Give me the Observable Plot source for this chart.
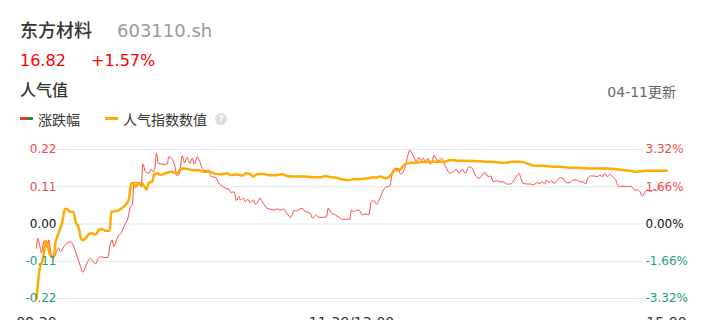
<!DOCTYPE html>
<html>
<head>
<meta charset="utf-8">
<script src="https://cdn.jsdelivr.net/npm/d3@7"></script>
<script src="https://cdn.jsdelivr.net/npm/@observablehq/plot@0.6"></script>
<style>
  html, body { margin: 0; padding: 0; background: #fff; width: 707px; height: 320px; overflow: hidden; }
  body { position: relative; font-family: "DejaVu Sans", "Noto Sans CJK SC", sans-serif; }
  .t { position: absolute; white-space: nowrap; }
  #chart { position: absolute; left: 0; top: 130px; }
  .mk { position: absolute; height: 3px; }
</style>
</head>
<body>
<div class="t" style="left:20px;top:22px;font-size:18px;line-height:18px;color:#333;font-weight:500;">东方材料</div>
<div class="t" style="left:117px;top:22px;font-size:18px;line-height:18px;color:#999;">603110.sh</div>
<div class="t" style="left:20px;top:53px;font-size:16px;line-height:16px;color:#f00;">16.82</div>
<div class="t" style="left:91px;top:53px;font-size:16px;line-height:16px;color:#f00;">+1.57%</div>
<div class="t" style="left:20px;top:82.5px;font-size:16px;line-height:16px;color:#333;font-weight:500;">人气值</div>
<div class="t" style="right:31px;top:85px;font-size:14px;line-height:14px;color:#666;">04-11更新</div>
<div class="mk" style="left:20px;top:117px;width:7px;background:#e8382f;"></div>
<div class="mk" style="left:27px;top:117px;width:6px;background:#2e8b3a;"></div>
<div class="t" style="left:38px;top:113px;font-size:14px;line-height:14px;color:#333;">涨跌幅</div>
<div class="mk" style="left:105px;top:117px;width:13px;background:#ffab00;"></div>
<div class="t" style="left:123px;top:113px;font-size:14px;line-height:14px;color:#333;">人气指数数值</div>
<div class="t" style="left:215px;top:112.5px;width:12px;height:12px;border-radius:6px;background:#ddd;color:#fff;font-size:9px;line-height:12px;text-align:center;font-weight:bold;">?</div>
<div id="chart"></div>
<script>
// 涨跌幅 (%) by trading minute index (0 = 09:30, 120 = 11:30/13:00, 240 = 15:00)
const redMinute = [0,0.5,1.3,1.9,2.6,3.4,4.1,4.7,5.3,6.0,6.9,7.6,8.5,9.1,10.4,11.7,13.0,14.2,15.5,16.8,17.6,18.7,19.5,20.6,21.6,22.5,23.5,24.7,25.9,27.2,27.9,28.8,29.5,30.5,31.4,32.3,33.0,33.9,34.8,35.8,36.5,37.1,37.7,39.0,39.9,40.5,41.5,42.8,43.7,44.5,45.1,45.7,46.4,47.9,49.1,49.8,50.4,51.7,52.6,53.6,54.5,55.5,56.4,57.4,58.4,59.3,60.2,61.2,62.2,63.5,64.8,65.6,66.6,68.2,69.5,70.8,72.0,73.3,74.2,75.2,76.2,77.1,77.7,78.8,79.6,80.5,81.5,82.6,83.4,84.1,85.1,86.4,87.9,89.2,90.4,91.7,93.0,94.2,95.5,96.8,97.4,98.0,99.1,100.3,101.2,102.5,104.1,105.3,106.3,107.6,109.5,110.5,111.1,112.3,113.9,115.2,116.5,117.7,119.4,119.9,120.9,121.9,123.2,124.1,125.3,126.6,127.5,128.5,129.5,131.1,132.3,133.6,134.6,135.3,135.9,136.8,137.7,138.7,139.7,140.6,141.5,142.2,143.1,144.0,144.8,145.7,146.6,147.3,148.2,149.1,149.9,150.8,151.4,152.4,153.3,154.2,155.2,156.2,157.5,158.8,160.0,160.9,162.2,163.4,164.7,166.0,167.3,168.9,170.2,171.1,172.0,173.0,174.0,175.3,176.5,177.8,179.1,180.6,181.9,183.1,183.8,184.4,185.4,187.0,188.2,189.5,190.5,191.8,192.7,193.5,194.3,195.2,196.1,197.1,198.4,199.6,200.9,201.9,203.2,204.5,205.7,207.0,208.3,209.2,210.0,211.1,212.3,213.6,214.6,215.5,216.4,217.4,218.4,219.7,220.6,221.3,222.3,223.8,225.1,226.0,226.9,227.8,228.9,229.9,230.8,231.7,232.7,234.0,235.2,236.3,237.1,238.0];
const redPct = [-1.08,-0.64,-1.01,-1.29,-0.85,-0.71,-1.07,-0.71,-1.16,-1.52,-1.46,-1.23,-1.07,-1.23,-1.01,-0.85,-0.79,-1.01,-1.46,-1.90,-2.15,-1.90,-1.68,-1.53,-1.68,-1.78,-1.53,-1.46,-1.49,-1.49,-1.01,-0.71,-1.01,-0.71,-0.49,-0.41,-0.19,0.03,0.25,0.77,0.85,1.81,1.84,1.81,1.66,2.67,2.33,2.26,2.44,2.33,2.48,3.15,2.70,2.67,2.66,2.67,3.00,2.88,2.63,2.14,2.26,3.03,2.73,2.97,2.70,2.93,2.67,3.00,2.78,2.41,2.38,2.41,2.11,2.08,1.81,1.69,1.59,1.55,1.39,1.44,1.04,1.22,1.07,1.15,0.99,1.10,0.95,1.07,0.89,0.92,1.15,0.92,0.70,0.66,0.62,0.67,0.62,0.67,0.45,0.30,0.40,0.59,0.59,0.66,0.70,0.55,0.50,0.25,0.40,0.30,0.30,0.33,0.70,0.50,0.40,0.30,0.21,0.22,0.21,0.62,0.55,0.62,0.59,0.40,0.45,0.40,0.99,1.04,0.89,1.22,1.55,1.66,1.69,2.11,2.41,2.48,2.48,2.23,2.33,2.63,3.07,3.30,3.15,2.93,2.78,2.97,2.82,2.93,2.78,2.93,2.67,2.78,3.07,2.88,2.82,2.93,2.70,2.48,2.26,2.33,2.44,2.26,2.44,2.26,2.55,2.48,2.14,2.04,2.26,2.26,2.11,2.14,1.88,1.93,1.88,1.88,1.78,1.78,1.96,2.18,2.26,2.08,1.81,1.78,1.78,1.74,1.84,1.81,1.88,1.78,1.96,1.84,1.93,1.81,1.96,2.06,1.99,1.84,1.84,1.96,1.96,1.88,1.88,1.78,2.04,2.14,2.14,2.11,2.18,2.11,2.26,2.11,2.21,2.08,1.99,1.74,1.66,1.69,1.66,1.69,1.64,1.52,1.52,1.44,1.25,1.39,1.52,1.44,1.55,1.48,1.59,1.62];

// 人气指数数值 by trading minute index
const popMinute = [0,1.5,2.2,2.8,3.4,4.1,4.7,5.6,6.6,7.2,7.9,9.1,10.0,10.8,11.7,12.7,14.0,14.9,16.1,17.0,18.0,19.1,19.9,21.2,22.5,23.7,25.0,26.3,27.9,28.5,30.1,31.4,32.7,33.9,35.2,36.1,36.8,37.7,39.0,40.3,41.1,41.9,42.8,44.1,44.7,46.0,47.2,49.1,51.1,52.6,53.6,54.9,56.1,58.0,59.9,61.8,63.7,65.6,68.2,70.1,72.7,73.9,76.5,78.4,80.0,81.3,82.6,84.1,86.6,88.5,91.1,93.6,95.5,98.0,102.5,104.4,108.2,110.1,112.0,113.9,115.8,118.4,120.9,124.1,126.6,127.9,129.2,131.1,133.0,134.2,135.5,136.8,137.4,138.7,139.9,141.2,143.1,145.0,147.6,150.1,152.7,155.2,157.7,160.3,162.8,166.6,171.1,174.2,176.8,178.7,181.2,183.8,185.7,187.6,189.7,192.0,194.6,197.1,199.6,202.2,206.0,209.8,213.6,217.4,221.2,223.8,226.3,228.2,230.1,232.7,235.2,237.7,240];
const popValue = [-0.220,-0.121,-0.111,-0.086,-0.052,-0.056,-0.077,-0.097,-0.092,-0.056,-0.038,-0.012,0.012,0.044,0.044,0.036,0.036,0.007,-0.012,-0.044,-0.047,-0.038,-0.030,-0.027,-0.032,-0.018,-0.015,-0.020,-0.020,0.036,0.038,0.041,0.048,0.056,0.073,0.120,0.122,0.110,0.120,0.120,0.110,0.102,0.122,0.125,0.145,0.150,0.145,0.150,0.154,0.151,0.150,0.162,0.164,0.162,0.159,0.159,0.154,0.154,0.148,0.147,0.150,0.145,0.146,0.143,0.150,0.148,0.140,0.148,0.148,0.144,0.144,0.147,0.142,0.140,0.140,0.139,0.138,0.142,0.138,0.137,0.133,0.130,0.132,0.133,0.135,0.138,0.137,0.140,0.135,0.138,0.150,0.162,0.159,0.162,0.174,0.179,0.181,0.181,0.183,0.184,0.184,0.184,0.189,0.187,0.187,0.186,0.184,0.183,0.181,0.181,0.184,0.184,0.182,0.177,0.172,0.172,0.171,0.169,0.169,0.167,0.166,0.164,0.164,0.164,0.162,0.159,0.157,0.154,0.156,0.157,0.157,0.157,0.157];

const yTicks = [0.22, 0.11, 0, -0.11, -0.22];
const leftLabels = ["0.22", "0.11", "0.00", "-0.11", "-0.22"];
const rightLabels = ["3.32%", "1.66%", "0.00%", "-1.66%", "-3.32%"];
const pctMax = 3.32;
const xTicks = [0, 120, 240];
const xLabels = ["09:30", "11:30/13:00", "15:00"];

const redData = redMinute.map((m, i) => ({m, v: redPct[i] * 0.22 / pctMax}));
const popData = popMinute.map((m, i) => ({m, v: popValue[i]}));
const tickData = yTicks.map((v, i) => ({v, left: leftLabels[i], right: rightLabels[i],
  c: v > 0 ? "#f24a4a" : v < 0 ? "#1f9e76" : "#111"}));
const xData = xTicks.map((m, i) => ({m, t: xLabels[i]}));

const chart = Plot.plot({
  width: 707, height: 210,
  marginTop: 19, marginBottom: 42, marginLeft: 36, marginRight: 41,
  x: {domain: [0, 240], axis: null},
  y: {domain: [-0.22, 0.22], axis: null},
  color: {type: "identity"},
  style: {fontFamily: "DejaVu Sans, sans-serif", fontSize: "12px", background: "transparent", overflow: "visible"},
  marks: [
    Plot.ruleY(tickData, {y: "v", stroke: "#e2e5ed", strokeWidth: 1, insetLeft: 21, insetRight: 23}),
    Plot.line(redData, {x: "m", y: "v", stroke: "#ff4545", strokeWidth: 1, curve: "monotone-x"}),
    Plot.line(popData, {x: "m", y: "v", stroke: "#ffab00", strokeWidth: 2.5, curve: "monotone-x"}),
    Plot.text(tickData, {y: "v", text: "left", frameAnchor: "left", textAnchor: "end", dx: 20, fill: "c", fontSize: 12}),
    Plot.text(tickData, {y: "v", text: "right", frameAnchor: "right", textAnchor: "start", dx: -21, fill: "c", fontSize: 12}),
    Plot.text(xData, {x: "m", text: "t", frameAnchor: "bottom", lineAnchor: "top", dy: 19, fill: "#333", fontSize: 14})
  ]
});
document.getElementById("chart").appendChild(chart);
</script>
</body>
</html>
